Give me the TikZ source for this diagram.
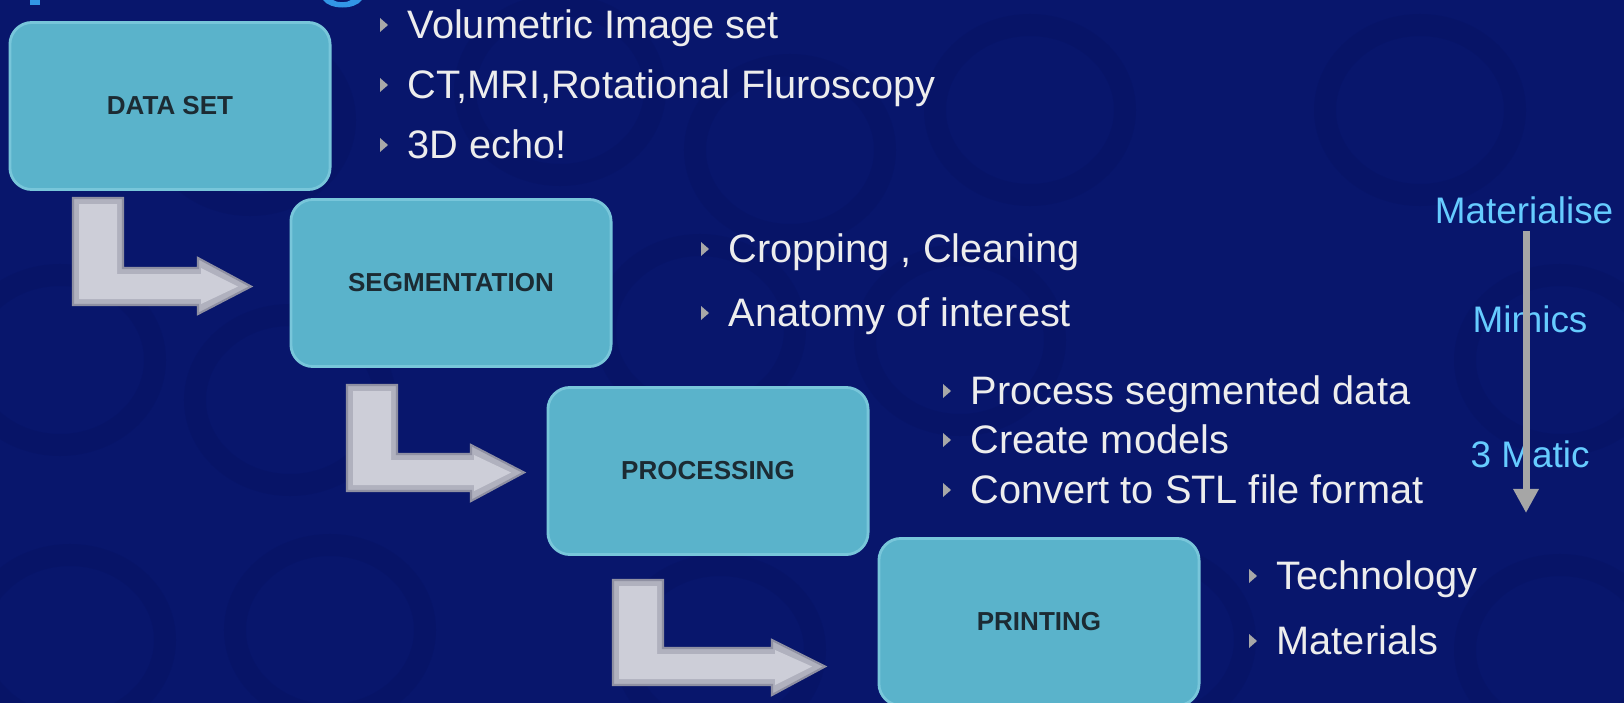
\documentclass[tikz,border=0pt]{standalone}
\usepackage{fontspec}
\setmainfont{Liberation Sans}
\usetikzlibrary{calc,arrows.meta}
\definecolor{bg}{HTML}{08166C}
\definecolor{ring}{HTML}{061160}
\definecolor{boxfill}{HTML}{5AB3CB}
\definecolor{boxrim}{HTML}{78C6DA}
\definecolor{boxtext}{HTML}{1C2B33}
\definecolor{txtwhite}{HTML}{EDEDED}
\definecolor{bulgrey}{HTML}{A8A8A8}
\definecolor{labblue}{HTML}{66CCFF}
\definecolor{arrgrey}{HTML}{A6A6A6}
\definecolor{blockfill}{HTML}{CDCED8}
\definecolor{blockrim}{HTML}{B0B1BE}
\definecolor{blockedge}{HTML}{8F90A2}
\definecolor{titleblue}{HTML}{3296E6}
\tikzset{
  stage/.style={draw=boxrim, line width=0.8pt, fill=boxfill, rounded corners=0.22cm,
    minimum width=3.2cm, minimum height=1.67cm, inner sep=0pt,
    text=boxtext, font=\fontsize{7.4pt}{9pt}\selectfont\bfseries},
  item/.style={anchor=base west, inner sep=0pt, text=txtwhite,
    font=\fontsize{11.3pt}{13pt}\selectfont},
  rlabel/.style={anchor=base, inner sep=0pt, text=labblue,
    font=\fontsize{10.5pt}{12pt}\selectfont},
  blockouter/.style={fill=blockrim, draw=blockedge, line width=0.6pt, line join=miter},
  blockinner/.style={fill=blockfill},
  emblem/.style={draw=ring, line width=0.22cm, opacity=0.35}
}
\newcommand{\bul}[1]{\fill[bulgrey] ($(#1.base west)+(-27,-20)$) -- ++(0,14) -- ++(8,-7) -- cycle;}
% L-shaped block arrow: #1 x left, #2 x right of bar, #3 top y, #4/#5 horizontal bar top/bottom,
% #6 head base x, #7/#8 head top/bottom, #9 tip x
\newcommand{\larrow}[9]{%
  \pgfmathsetmacro{\ym}{(#4+#5)/2}%
  \path[blockouter] (#1,#3) -- (#2,#3) -- (#2,#4) -- (#6,#4) -- (#6,#7) -- (#9,\ym)
    -- (#6,#8) -- (#6,#5) -- (#1,#5) -- cycle;
  \pgfmathsetmacro{\xa}{#1+6}\pgfmathsetmacro{\xb}{#2-6}\pgfmathsetmacro{\ya}{#3+6}%
  \pgfmathsetmacro{\hba}{#4+6}\pgfmathsetmacro{\hbb}{#5-6}\pgfmathsetmacro{\xh}{#6+3}%
  \pgfmathsetmacro{\ha}{#7+10}\pgfmathsetmacro{\hb}{#8-10}\pgfmathsetmacro{\xt}{#9-13}%
  \fill[blockinner] (\xa,\ya) -- (\xb,\ya) -- (\xb,\hba) -- (\xh,\hba) -- (\xh,\ha) -- (\xt,\ym)
    -- (\xh,\hb) -- (\xh,\hbb) -- (\xa,\hbb) -- cycle;
}
\begin{document}
\begin{tikzpicture}[x=0.01cm,y=-0.01cm]
\useasboundingbox (0,0) rectangle (1624,703);
\fill[bg] (0,0) rectangle (1624,703);
% faint background emblems
\begin{scope}
\clip (0,0) rectangle (1624,703);
\foreach \cx/\cy in {250/120,560/90,790/150,1030/110,1420/110,60/360,290/400,700/330,960/340,1560/360,70/640,330/630,720/650,1150/640,1560/650}
  \draw[emblem] (\cx,\cy) ellipse (95 and 85);
\end{scope}
% title fragments (cut off at top)
\fill[titleblue] (30,0) rectangle (40,5);
\fill[titleblue] (323,0) .. controls (330,10) and (355,10) .. (362,0) -- (351,0) .. controls (347,3) and (337,3) .. (333,0) -- cycle;

% stage boxes
\node[stage] (ds)  at (170,106) {DATA SET};
\node[stage] (seg) at (451,283) {SEGMENTATION};
\node[stage] (pro) at (708,471) {PROCESSING};
\node[stage] (pri) at (1039,622) {PRINTING};

% L-shaped block arrows
\larrow{73}{123}{198}{268}{305}{198}{258}{314}{251}
\larrow{347}{397}{385}{454}{491}{471}{445}{501}{524}
\larrow{613}{663}{580}{648}{685}{772}{640}{695}{825}

% bullet texts
\node[item] (v1) at (407,38)  {Volumetric Image set};
\node[item] (v2) at (407,98)  {CT,MRI,Rotational Fluroscopy};
\node[item] (v3) at (407,158) {3D echo!};
\node[item] (s1) at (728,262) {Cropping , Cleaning};
\node[item] (s2) at (728,326) {Anatomy of interest};
\node[item] (p1) at (970,404) {Process segmented data};
\node[item] (p2) at (970,453) {Create models};
\node[item] (p3) at (970,503) {Convert to STL file format};
\node[item] (r1) at (1276,589) {Technology};
\node[item] (r2) at (1276,654) {Materials};
\bul{v1}\bul{v2}\bul{v3}\bul{s1}\bul{s2}\bul{p1}\bul{p2}\bul{p3}\bul{r1}\bul{r2}

% software labels and arrow
\node[rlabel] (mat) at (1524,223) {Materialise};
\node[rlabel] (mim) at (1530,332) {Mimics};
\node[rlabel] (tma) at (1530,467) {3 Matic};
\coordinate (as) at (1526,231);
\coordinate (ae) at (1526,513);
\draw[arrgrey, line width=0.07cm, -{Triangle[length=0.24cm,width=0.24cm]}] (as) -- (ae);
\end{tikzpicture}
\end{document}
